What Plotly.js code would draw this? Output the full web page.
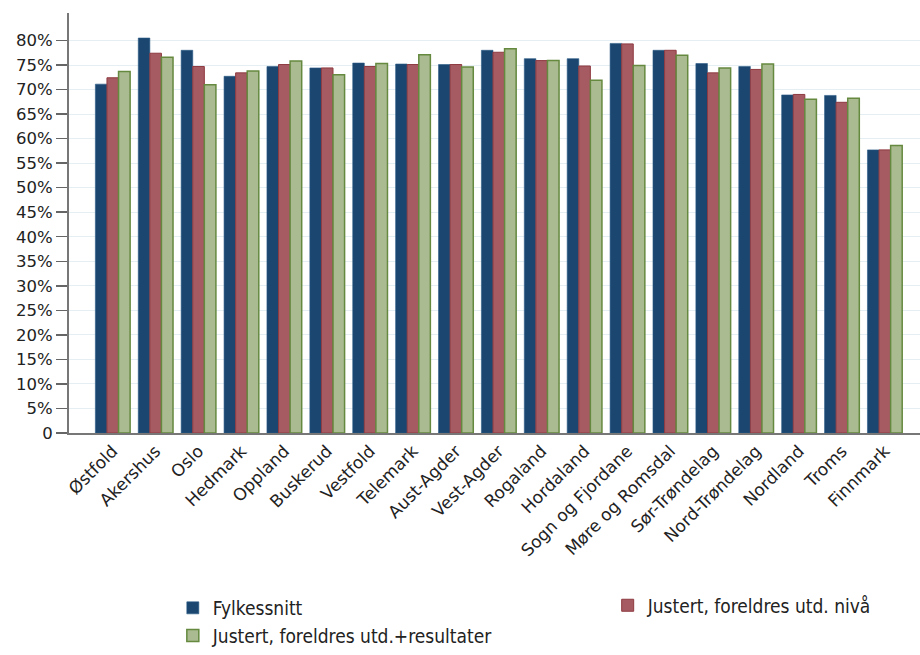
<!DOCTYPE html>
<html>
<head>
<meta charset="utf-8">
<script src="https://cdn.plot.ly/plotly-3.0.1.min.js"></script>
<style>html,body{margin:0;padding:0;background:#fff;}#chart{width:920px;height:655px;}</style>
</head>
<body>
<div id="chart"></div>
<script>
const counties = ["Østfold","Akershus","Oslo","Hedmark","Oppland","Buskerud","Vestfold","Telemark","Aust-Agder","Vest-Agder","Rogaland","Hordaland","Sogn og Fjordane","Møre og Romsdal","Sør-Trøndelag","Nord-Trøndelag","Nordland","Troms","Finnmark"];
const fylkessnitt = [71.1,80.5,78.0,72.7,74.7,74.4,75.4,75.2,75.1,78.0,76.3,76.3,79.4,78.0,75.3,74.7,68.9,68.8,57.7];
const justertUtd = [72.4,77.4,74.7,73.4,75.1,74.4,74.7,75.1,75.1,77.6,75.9,74.8,79.3,78.0,73.4,74.1,69.0,67.4,57.7];
const justertUtdRes = [73.7,76.6,71.0,73.8,75.8,73.0,75.3,77.1,74.6,78.3,75.9,71.9,74.9,77.0,74.4,75.2,68.0,68.2,58.6];
const seriesNames = ["Fylkessnitt","Justert, foreldres utd. nivå","Justert, foreldres utd.+resultater"];
const yTickValues = [0,5,10,15,20,25,30,35,40,45,50,55,60,65,70,75,80];
const yTickLabels = ["0","5%","10%","15%","20%","25%","30%","35%","40%","45%","50%","55%","60%","65%","70%","75%","80%"];

const styles = [
  {fill:"#1a4670", line:"#2a5a85", w:0.6, legend:"legend", group:"a"},
  {fill:"#a55b61", line:"#8e3a40", w:1, legend:"legend2", group:"b"},
  {fill:"#aabb91", line:"#65893f", w:1.5, legend:"legend", group:"c"}
];
const seriesData = [fylkessnitt, justertUtd, justertUtdRes];
const traces = seriesData.map((vals,i)=>({
  type:"bar", name:seriesNames[i], x:counties, y:vals,
  legend:styles[i].legend, legendgroup:styles[i].group,
  marker:{color:styles[i].fill, line:{color:styles[i].line, width:styles[i].w}},
  hoverinfo:"x+y"
}));

const legendFont = {size:19, family:"Liberation Sans Narrow, DejaVu Sans Condensed, sans-serif", color:"#222"};
const layout = {
  width:920, height:655,
  margin:{l:69, r:0, t:13, b:221},
  paper_bgcolor:"#fff", plot_bgcolor:"#fff",
  barmode:"group", bargap:0.19, bargroupgap:0,
  font:{family:"DejaVu Sans, Liberation Sans, sans-serif", color:"#222"},
  xaxis:{
    type:"category", range:[-1.02, 18.82], tickangle:-45,
    tickfont:{size:17, family:"DejaVu Sans, sans-serif", color:"#222"},
    showline:true, linecolor:"#777", linewidth:1.5, ticks:"", showgrid:false, zeroline:false
  },
  yaxis:{
    range:[0,85.6], tickvals:yTickValues, ticktext:yTickLabels,
    tickfont:{size:16.5, family:"DejaVu Sans, sans-serif", color:"#222"},
    ticks:"outside", ticklen:11, tickwidth:1.5, tickcolor:"#666",
    showline:true, linecolor:"#777", linewidth:2,
    showgrid:true, gridcolor:"#e4eef3", gridwidth:1, zeroline:false
  },
  showlegend:true,
  legend:{
    orientation:"v", x:0.122, xanchor:"left", y:-0.372, yanchor:"top",
    tracegroupgap:11, font:legendFont, traceorder:"normal", bgcolor:"rgba(0,0,0,0)"
  },
  legend2:{
    orientation:"v", x:0.633, xanchor:"left", y:-0.362, yanchor:"top",
    font:legendFont, bgcolor:"rgba(0,0,0,0)"
  }
};
Plotly.newPlot("chart", traces, layout, {staticPlot:true, displayModeBar:false});
</script>
</body>
</html>
